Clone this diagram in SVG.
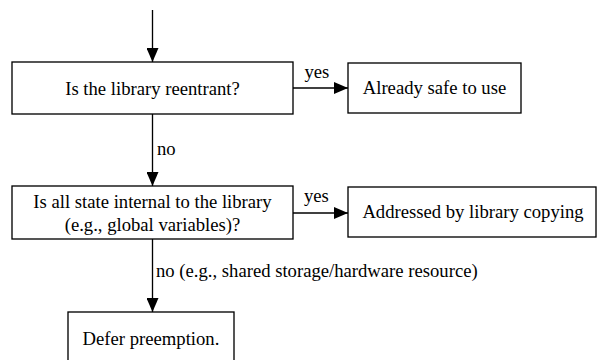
<svg xmlns="http://www.w3.org/2000/svg" width="597" height="360" viewBox="0 0 597 360">
<style>
.box{fill:#fff;stroke:#000;stroke-width:1.33}
.t{font-family:"Liberation Serif","Times New Roman",serif;font-size:18.67px;fill:#000;text-anchor:middle}
.l{font-family:"Liberation Serif","Times New Roman",serif;font-size:18.67px;fill:#000;text-anchor:start}
.e{fill:none;stroke:#000;stroke-width:1.33}
</style>
<defs>
<marker id="ah" markerWidth="14" markerHeight="12" refX="14" refY="6" orient="auto" markerUnits="userSpaceOnUse">
<path d="M0,0 L14,6 L0,12 Z" fill="#000"/>
</marker>
</defs>
<rect width="597" height="360" fill="#fff"/>
<g id="connectors">
<line class="e" x1="152.5" y1="10" x2="152.5" y2="62" marker-end="url(#ah)"/>
<line class="e" x1="293" y1="88" x2="348" y2="88" marker-end="url(#ah)"/>
<text class="l" x="304.5" y="78">yes</text>
<line class="e" x1="152.5" y1="114" x2="152.5" y2="186" marker-end="url(#ah)"/>
<text class="l" x="157" y="155">no</text>
<line class="e" x1="293" y1="213" x2="348" y2="213" marker-end="url(#ah)"/>
<text class="l" x="304" y="202">yes</text>
<line class="e" x1="152.5" y1="239" x2="152.5" y2="312" marker-end="url(#ah)"/>
<text class="l" x="156" y="277">no (e.g., shared storage/hardware resource)</text>
</g>
<g id="n1">
<rect class="box" x="12" y="62" width="281" height="52"/>
<text class="t" x="152.5" y="95">Is the library reentrant?</text>
</g>
<g id="n2">
<rect class="box" x="348" y="63" width="173" height="50"/>
<text class="t" x="434.5" y="94">Already safe to use</text>
</g>
<g id="n3">
<rect class="box" x="12" y="186" width="281" height="53"/>
<text class="t" x="152.5" y="207.5">Is all state internal to the library</text>
<text class="t" x="152.5" y="230.5">(e.g., global variables)?</text>
</g>
<g id="n4">
<rect class="box" x="348" y="187" width="248" height="50"/>
<text class="t" x="473" y="218">Addressed by library copying</text>
</g>
<g id="n5">
<rect class="box" x="68" y="312" width="166" height="60"/>
<text class="t" x="151" y="345">Defer preemption.</text>
</g>
</svg>
